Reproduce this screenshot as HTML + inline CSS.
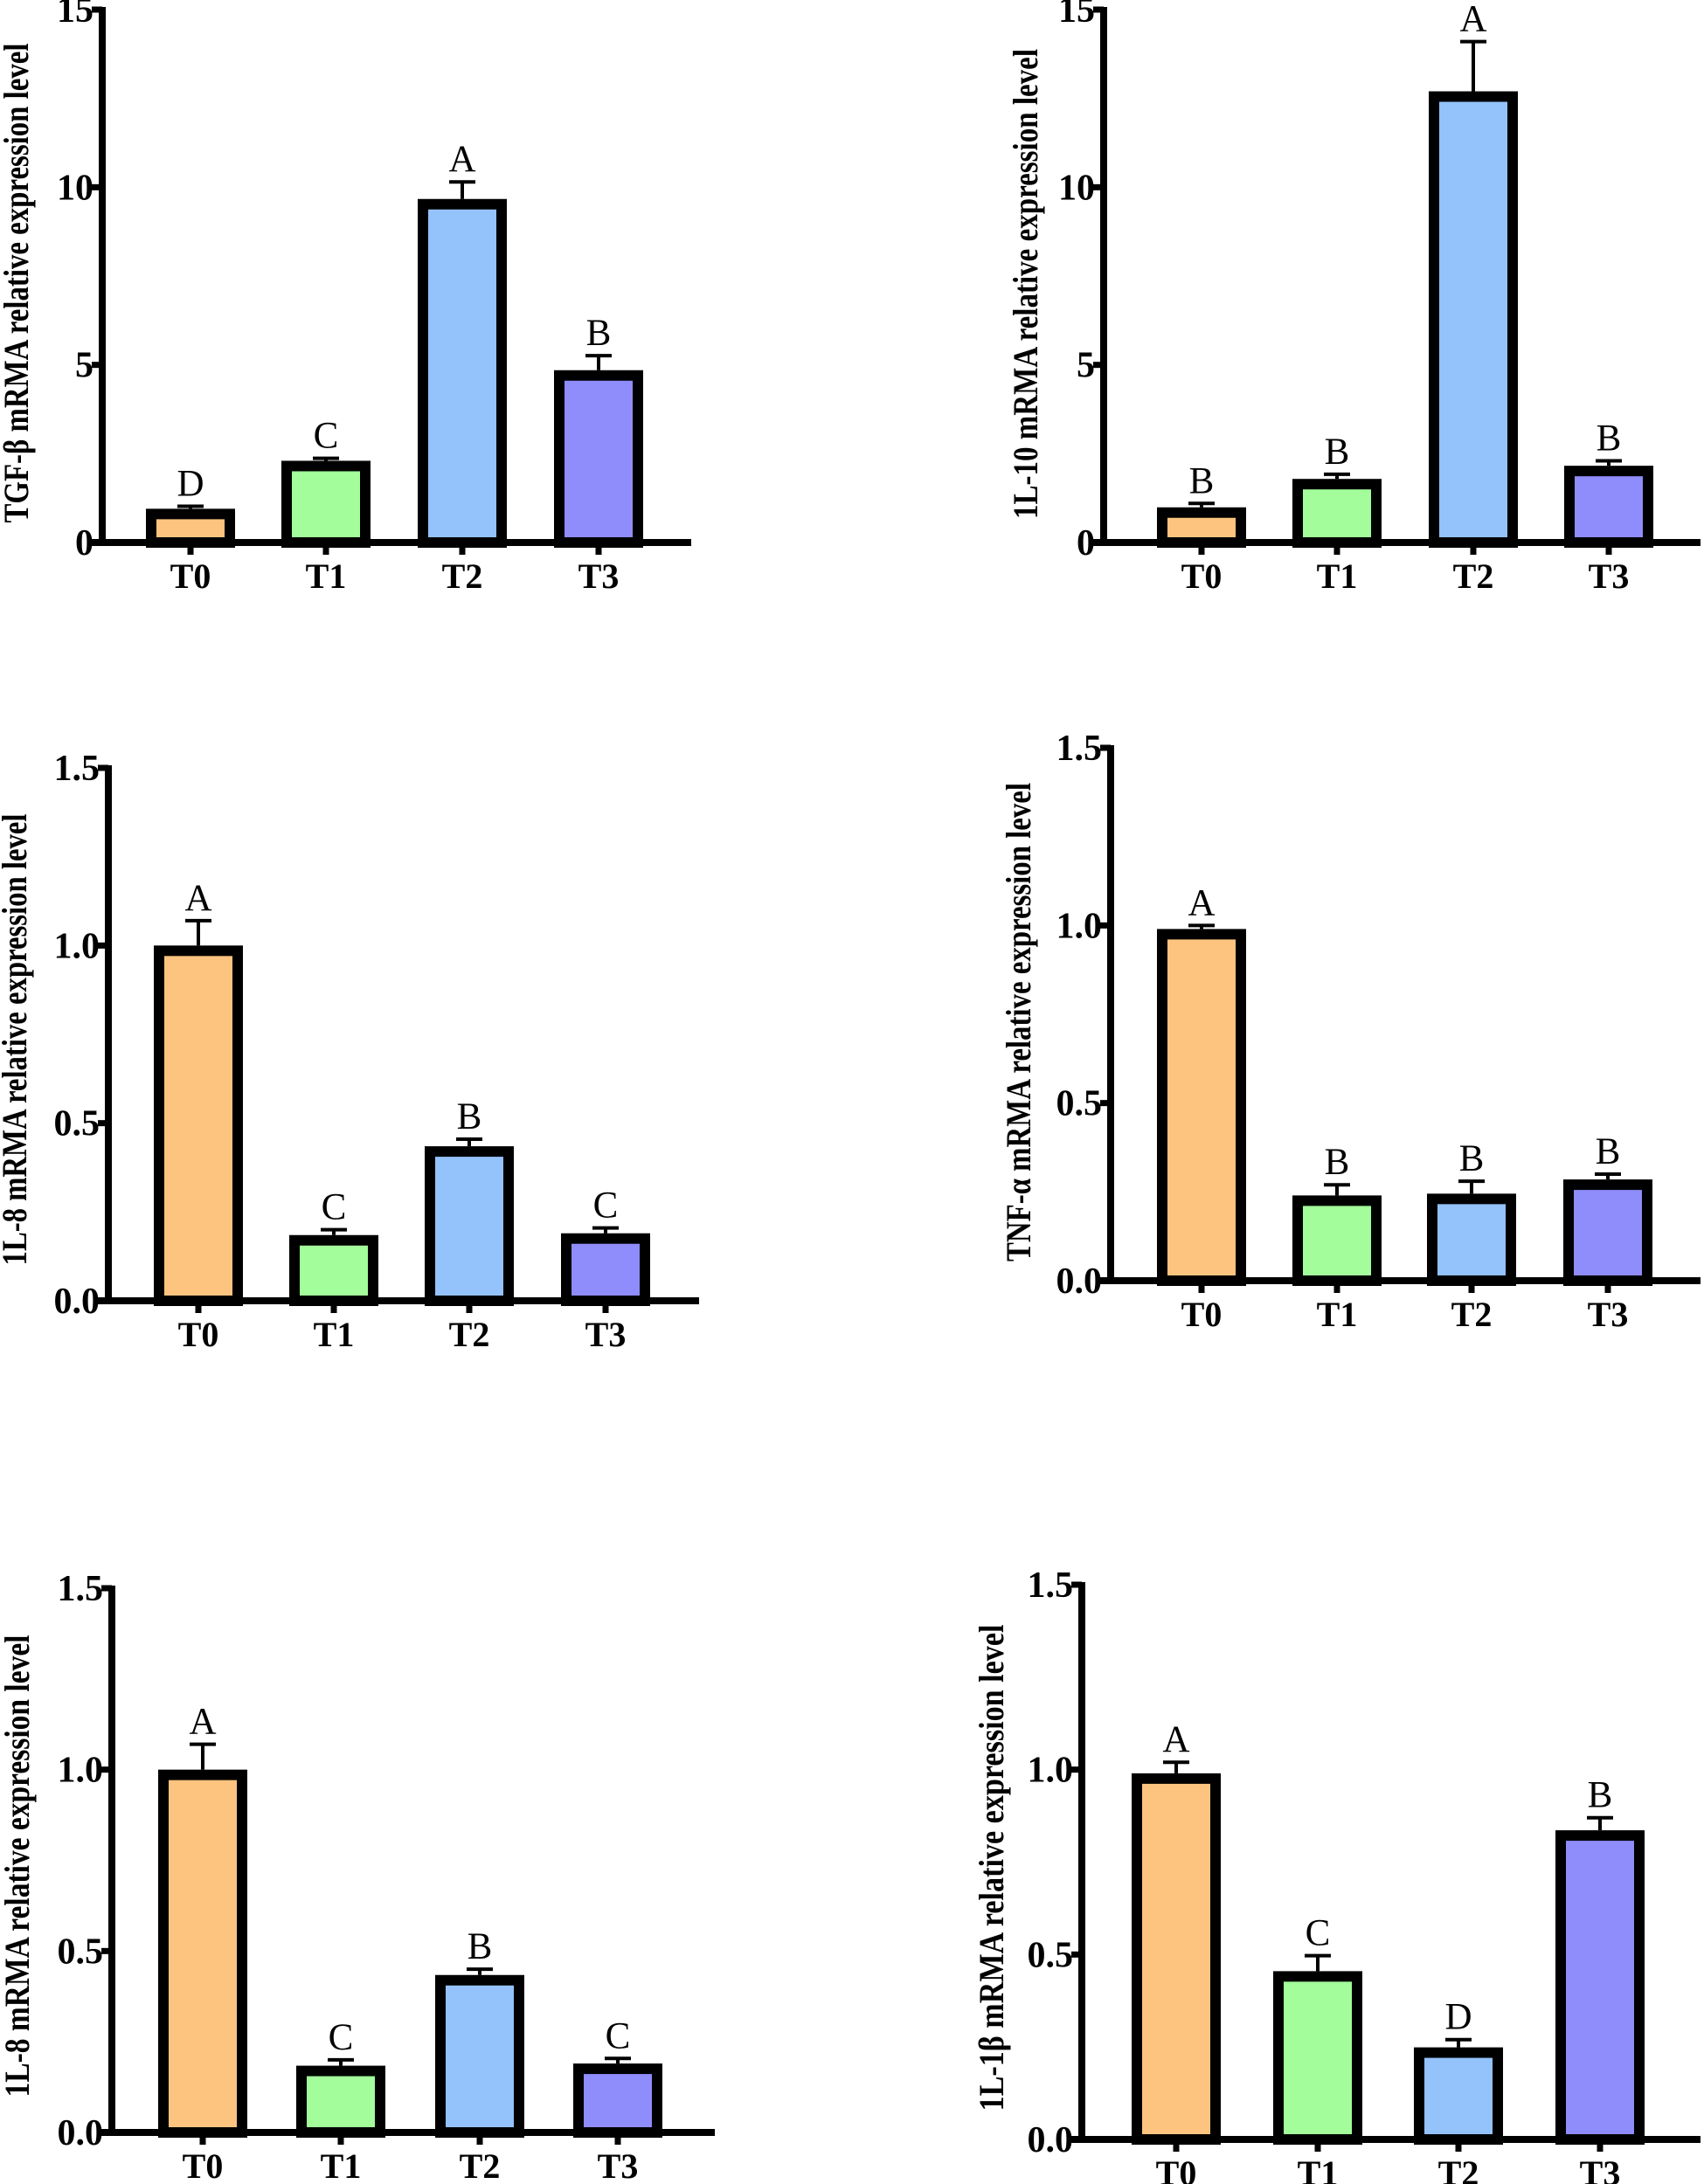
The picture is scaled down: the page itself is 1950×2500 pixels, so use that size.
<!DOCTYPE html>
<html><head><meta charset="utf-8"><style>
html,body{margin:0;padding:0;background:#fff;}
svg{display:block;}
</style></head><body>
<svg id="fig" width="1950" height="2500" viewBox="0 0 1950 2500" xmlns="http://www.w3.org/2000/svg"></svg>
<script>
const categories = ["T0","T1","T2","T3"];
const colors = ["#fcc47f","#a2fd9a","#94c2fb","#8f8cfb"];
const tgfValues = [0.95, 2.3, 9.67, 4.85];
const tgfErrors = [0.07, 0.07, 0.48, 0.41];
const tgfLetters = ["D","C","A","B"];
const tgfTicks = ["0","5","10","15"];
const il10Values = [0.99, 1.79, 12.7, 2.16];
const il10Errors = [0.11, 0.13, 1.4, 0.14];
const il10Letters = ["B","B","A","B"];
const il10Ticks = ["0","5","10","15"];
const il8aValues = [1.0, 0.185, 0.435, 0.19];
const il8aErrors = [0.07, 0.015, 0.02, 0.015];
const il8aLetters = ["A","C","B","C"];
const smallTicks = ["0.0","0.5","1.0","1.5"];
const tnfValues = [0.99, 0.24, 0.245, 0.285];
const tnfErrors = [0.01, 0.03, 0.035, 0.015];
const tnfLetters = ["A","B","B","B"];
const il8bValues = [1.0, 0.184, 0.434, 0.19];
const il8bErrors = [0.07, 0.016, 0.016, 0.014];
const il8bLetters = ["A","C","B","C"];
const il1bValues = [0.99, 0.455, 0.249, 0.836];
const il1bErrors = [0.03, 0.042, 0.021, 0.034];
const il1bLetters = ["A","C","D","B"];

const NS = "http://www.w3.org/2000/svg";
const svg = document.getElementById("fig");
function mk(tag, attrs, parent){
  const e = document.createElementNS(NS, tag);
  for (const k in attrs) e.setAttribute(k, attrs[k]);
  (parent||svg).appendChild(e);
  return e;
}
const panels = [
 {key:"tgf-beta", title:"TGF-\u03b2 mRMA relative expression level", vals:tgfValues, errs:tgfErrors, lets:tgfLetters, ticks:tgfTicks, max:15,
  ax:117, y0:621, ytop:11, xs:[218,373,529,685], xend:791, tx:18, ty:324, tl:549},
 {key:"il-10", title:"1L-10 mRMA relative expression level", vals:il10Values, errs:il10Errors, lets:il10Letters, ticks:il10Ticks, max:15,
  ax:1263, y0:621, ytop:11, xs:[1375,1530,1686,1841], xend:1946, tx:1173, ty:325, tl:538},
 {key:"il-8-a", title:"1L-8 mRMA relative expression level", vals:il8aValues, errs:il8aErrors, lets:il8aLetters, ticks:smallTicks, max:1.5,
  ax:124, y0:1489, ytop:879, xs:[227,382,537,693], xend:800, tx:16, ty:1190, tl:517},
 {key:"tnf-alpha", title:"TNF-\u03b1 mRMA relative expression level", vals:tnfValues, errs:tnfErrors, lets:tnfLetters, ticks:smallTicks, max:1.5,
  ax:1271, y0:1466, ytop:856, xs:[1375,1530,1684,1840], xend:1946, tx:1165, ty:1170, tl:548},
 {key:"il-8-b", title:"1L-8 mRMA relative expression level", vals:il8bValues, errs:il8bErrors, lets:il8bLetters, ticks:smallTicks, max:1.5,
  ax:128, y0:2441, ytop:1818, xs:[232,390,549,707], xend:818, tx:19, ty:2136, tl:529},
 {key:"il-1-beta", title:"1L-1\u03b2 mRMA relative expression level", vals:il1bValues, errs:il1bErrors, lets:il1bLetters, ticks:smallTicks, max:1.5,
  ax:1238, y0:2449, ytop:1814, xs:[1346,1508,1669,1831], xend:1946, tx:1134, ty:2138, tl:557}
];
panels.forEach(p=>{
  const g = mk("g",{});
  
  
  const yS = v => p.y0 - (v/p.max)*(p.y0-p.ytop);
  const bw = 102, sw = 12;
  p.vals.forEach((v,i)=>{
    const cx = p.xs[i];
    const top = yS(v);
    const err = yS(v + p.errs[i]);
    const eb = mk("line",{x1:cx,x2:cx,y1:top,y2:err,stroke:"#000","stroke-width":4},g);
    
    
    mk("line",{x1:cx-15,x2:cx+15,y1:err,y2:err,stroke:"#000","stroke-width":4},g);
    const r = mk("rect",{x:cx-bw/2+sw/2,y:top+sw/2,width:bw-sw,height:Math.max(0,p.y0-top-sw/2),fill:colors[i],stroke:"#000","stroke-width":sw},g);
    
    
    const lt = mk("text",{x:cx,y:err-12,"text-anchor":"middle","font-family":"Liberation Serif, serif","font-size":43,fill:"#000"},g);
    lt.textContent = p.lets[i];
    
    
    mk("line",{x1:cx,x2:cx,y1:p.y0,y2:p.y0+14,stroke:"#000","stroke-width":7},g);
    const ct = mk("text",{x:cx,y:p.y0+52,"text-anchor":"middle","font-family":"Liberation Serif, serif","font-weight":"bold","font-size":40,fill:"#000"},g);
    ct.textContent = categories[i];
    
    
  });
  const ya = mk("line",{x1:p.ax,x2:p.ax,y1:p.ytop-3,y2:p.y0+3,stroke:"#000","stroke-width":8},g);
  
  
  const xa = mk("line",{x1:p.ax-12,x2:p.xend,y1:p.y0,y2:p.y0,stroke:"#000","stroke-width":8},g);
  
  
  p.ticks.forEach((t,k)=>{
    const v = p.max*k/(p.ticks.length-1);
    const y = yS(v);
    mk("line",{x1:p.ax-12,x2:p.ax,y1:y,y2:y,stroke:"#000","stroke-width":7},g);
    const tt = mk("text",{x:p.ax-10,y:y+14,"text-anchor":"end","font-family":"Liberation Serif, serif","font-weight":"bold","font-size":42,fill:"#000"},g);
    tt.textContent = t;
    
    
  });
  const yt = mk("text",{x:0,y:0,transform:`translate(${p.tx+14},${p.ty}) rotate(-90)`,"text-anchor":"middle","font-family":"Liberation Serif, serif","font-weight":"bold","font-size":40,fill:"#000",textLength:p.tl,lengthAdjust:"spacingAndGlyphs"},g);
  yt.textContent = p.title;
  
  
});
</script>
</body></html>
